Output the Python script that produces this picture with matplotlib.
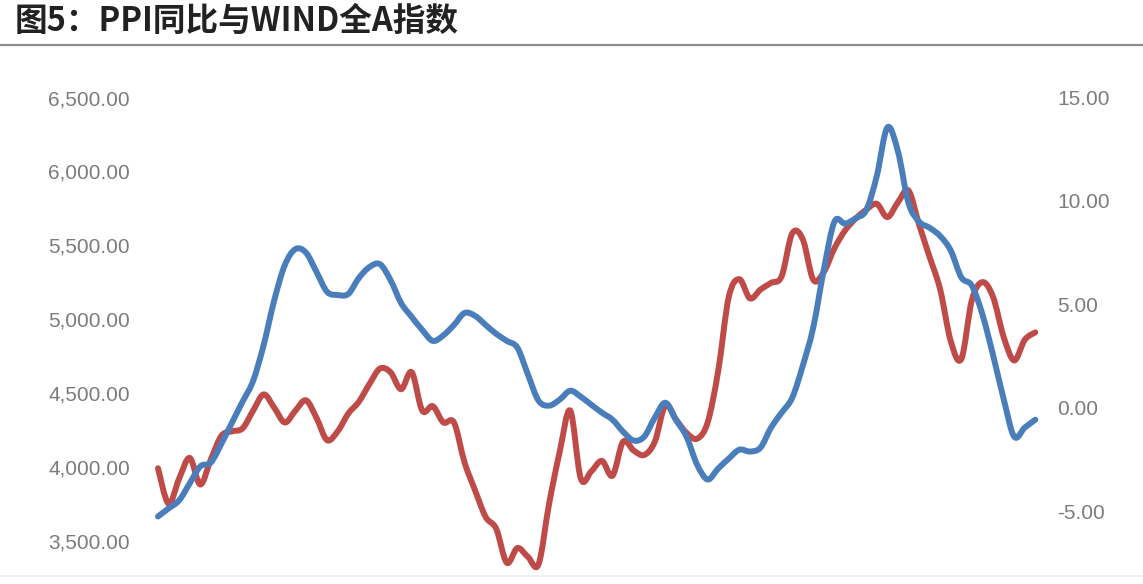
import matplotlib
matplotlib.use("Agg")
import matplotlib.pyplot as plt
from matplotlib.lines import Line2D
from matplotlib.path import Path
from matplotlib.patches import PathPatch
import numpy as np
import pandas as pd

# ---- data (monthly, Jan 2016 - Dec 2022) ----
months = pd.date_range("2016-01-01", periods=84, freq="MS")

wind_all_a = [
    3990, 3750, 3920, 4060, 3880, 4050, 4210, 4240, 4260, 4380,
    4490, 4400, 4300, 4380, 4450, 4330, 4180, 4240, 4360, 4440,
    4560, 4665, 4640, 4525, 4640, 4380, 4410, 4300, 4300, 4030,
    3840, 3660, 3580, 3350, 3450, 3390, 3340, 3750, 4100, 4380,
    3920, 3970, 4040, 3940, 4170, 4110, 4080, 4170, 4416, 4320,
    4230, 4190, 4300, 4650, 5150, 5270, 5140, 5200, 5245, 5290,
    5580, 5540, 5265, 5320, 5480, 5600, 5680, 5740, 5780, 5690,
    5790, 5870, 5640, 5420, 5200, 4850, 4730, 5130, 5250, 5150,
    4880, 4720, 4860, 4910,
]

ppi_yoy = [
    -5.26, -4.87, -4.48, -3.66, -2.84, -2.65, -1.74, -0.72, 0.29, 1.30,
    3.04, 5.20, 6.90, 7.67, 7.50, 6.56, 5.60, 5.45, 5.50, 6.27,
    6.80, 6.94, 6.17, 5.06, 4.39, 3.76, 3.23, 3.50, 4.00, 4.58,
    4.44, 4.00, 3.57, 3.23, 2.90, 1.60, 0.34, 0.10, 0.39, 0.82,
    0.53, 0.14, -0.24, -0.58, -1.16, -1.59, -1.40, -0.48, 0.24, -0.58,
    -1.40, -2.75, -3.47, -2.94, -2.46, -2.03, -2.12, -1.93, -0.96, -0.24,
    0.48, 2.03, 3.90, 6.70, 9.00, 8.90, 9.16, 9.55, 11.20, 13.55,
    12.40, 9.90, 9.00, 8.70, 8.30, 7.60, 6.30, 5.90, 4.50, 2.55,
    0.43, -1.40, -0.96, -0.58,
]

left_ticks = [3500, 4000, 4500, 5000, 5500, 6000, 6500]
right_ticks = [-5, 0, 5, 10, 15]

title = "图5：PPI同比与WIND全A指数"

# ---- helpers ----
def smooth_path(xs, ys):
    """Smoothed (Catmull-Rom style) Bezier path through the data points,
    like a spreadsheet 'smoothed line'."""
    pts = np.column_stack([xs, ys]).astype(float)
    n = len(pts)
    verts = [pts[0]]
    codes = [Path.MOVETO]
    for i in range(n - 1):
        p0 = pts[i - 1] if i > 0 else pts[i]
        p1 = pts[i]
        p2 = pts[i + 1]
        p3 = pts[i + 2] if i + 2 < n else pts[i + 1]
        c1 = p1 + (p2 - p0) / 6.0
        c2 = p2 - (p3 - p1) / 6.0
        verts += [c1, c2, p2]
        codes += [Path.CURVE4] * 3
    return Path(verts, codes)

# ---- figure ----
W, H = 1143, 584
fig = plt.figure(figsize=(W / 100, H / 100), dpi=100)
fig.patch.set_facecolor("white")

red = "#BF4B48"
blue = "#4A7EBB"
tick_color = "#7C7C7C"

ax_left_px, ax_right_px = 148, 1046
ax_top_px, ax_bot_px = 97.5, 614.5
ax = fig.add_axes([ax_left_px / W, (H - ax_bot_px) / H,
                   (ax_right_px - ax_left_px) / W, (ax_bot_px - ax_top_px) / H])
ax2 = ax.twinx()

x = np.arange(len(months))
lw = 4.3
ax.add_patch(PathPatch(smooth_path(x, wind_all_a), fill=False, edgecolor=red,
                       lw=lw, capstyle="round", joinstyle="round",
                       clip_on=False, zorder=2))
ax2.add_patch(PathPatch(smooth_path(x, ppi_yoy), fill=False, edgecolor=blue,
                        lw=lw, capstyle="round", joinstyle="round",
                        clip_on=False, zorder=3))

ax.set_xlim(-0.946, 84.01)
ax.set_ylim(3000, 6500)
ax2.set_ylim(-10, 15)

ax.set_yticks(left_ticks)
ax.set_yticklabels([f"{v:,.2f}" for v in left_ticks])
ax2.set_yticks(right_ticks)
ax2.set_yticklabels([f"{v:,.2f}" for v in right_ticks])

for a in (ax, ax2):
    for s in a.spines.values():
        s.set_visible(False)
    a.set_xticks([])
    a.patch.set_alpha(0)
ax.tick_params(axis="y", length=0, pad=13, labelsize=15, labelcolor=tick_color)
ax2.tick_params(axis="y", length=0, pad=8, labelsize=15, labelcolor=tick_color)
for lab in ax.get_yticklabels() + ax2.get_yticklabels():
    lab.set_fontfamily(["Liberation Sans", "DejaVu Sans"])

# title and rules
fig.text(15 / W, 1 - 21 / H, title, fontsize=23.5, fontweight="bold",
         color="#222222", va="center", ha="left",
         family=["Noto Sans CJK SC", "DejaVu Sans"])
fig.add_artist(Line2D([0, 1], [1 - 45 / H, 1 - 45 / H], transform=fig.transFigure,
                      color="#8C8C8C", lw=1.6))
fig.add_artist(Line2D([0, 1], [1 - 576 / H, 1 - 576 / H], transform=fig.transFigure,
                      color="#EDEDED", lw=1.2))

fig.savefig("out.png", dpi=100, facecolor="white")
